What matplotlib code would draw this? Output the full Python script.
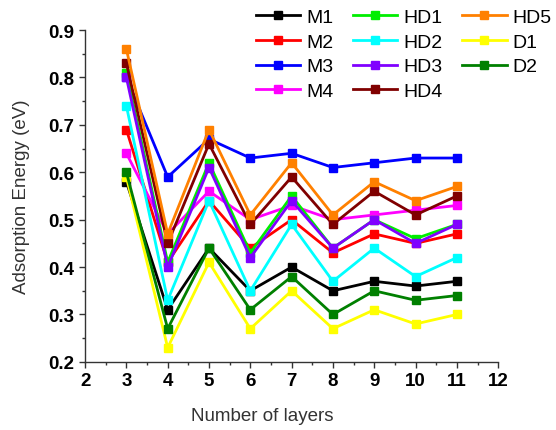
import matplotlib
matplotlib.use('Agg')
import matplotlib.pyplot as plt
from matplotlib.ticker import MultipleLocator

plt.rcParams['font.family'] = ['Liberation Sans', 'DejaVu Sans']

layers = [3, 4, 5, 6, 7, 8, 9, 10, 11]

names = ['M1', 'M2', 'M3', 'M4', 'HD1', 'HD2', 'HD3', 'HD4', 'HD5', 'D1', 'D2']
M1 = [0.58, 0.31, 0.44, 0.35, 0.40, 0.35, 0.37, 0.36, 0.37]
M2 = [0.69, 0.41, 0.54, 0.44, 0.50, 0.43, 0.47, 0.45, 0.47]
M3 = [0.80, 0.59, 0.67, 0.63, 0.64, 0.61, 0.62, 0.63, 0.63]
M4 = [0.64, 0.47, 0.56, 0.50, 0.53, 0.50, 0.51, 0.52, 0.53]
HD1 = [0.81, 0.41, 0.62, 0.43, 0.55, 0.44, 0.50, 0.46, 0.49]
HD2 = [0.74, 0.33, 0.54, 0.35, 0.49, 0.37, 0.44, 0.38, 0.42]
HD3 = [0.80, 0.40, 0.61, 0.42, 0.54, 0.44, 0.50, 0.45, 0.49]
HD4 = [0.83, 0.45, 0.66, 0.49, 0.59, 0.49, 0.56, 0.51, 0.55]
HD5 = [0.86, 0.47, 0.69, 0.51, 0.62, 0.51, 0.58, 0.54, 0.57]
D1 = [0.59, 0.23, 0.41, 0.27, 0.35, 0.27, 0.31, 0.28, 0.30]
D2 = [0.60, 0.27, 0.44, 0.31, 0.38, 0.30, 0.35, 0.33, 0.34]
series = [M1, M2, M3, M4, HD1, HD2, HD3, HD4, HD5, D1, D2]
colors = ['#000000', '#ff0000', '#0000ff', '#ff00ff', '#00ee00', '#00ffff',
          '#8000ff', '#800000', '#ff8000', '#ffff00', '#008000']

fig = plt.figure(figsize=(5.56, 4.31), dpi=100)
ax = fig.add_axes([0.153, 0.158, 0.743, 0.770])

for name, vals, c in zip(names, series, colors):
    ax.plot(layers, vals, '-s', color=c, lw=2.0, ms=6, label=name)

ax.set_xlim(2, 12)
ax.set_ylim(0.2, 0.9)
ax.xaxis.set_major_locator(MultipleLocator(1))
ax.xaxis.set_minor_locator(MultipleLocator(0.5))
ax.yaxis.set_major_locator(MultipleLocator(0.1))
ax.yaxis.set_minor_locator(MultipleLocator(0.05))
ax.spines['top'].set_visible(False)
ax.spines['right'].set_visible(False)
for s in ['left', 'bottom']:
    ax.spines[s].set_color('#333333')
    ax.spines[s].set_linewidth(1.0)
ax.tick_params(which='major', direction='out', length=4, width=1, color='#333333')
ax.tick_params(which='minor', direction='out', length=2.5, width=1, color='#333333')
ax.set_xticks(range(2, 13))
ax.set_xticklabels([str(i) for i in range(2, 13)], fontweight='bold', fontsize=13.5)
ax.set_yticks([0.2, 0.3, 0.4, 0.5, 0.6, 0.7, 0.8, 0.9])
ax.set_yticklabels(['0.2', '0.3', '0.4', '0.5', '0.6', '0.7', '0.8', '0.9'],
                   fontweight='bold', fontsize=13.5)

ax.set_xlabel('Number of layers', fontsize=13.5, color='#333333')
ax.xaxis.set_label_coords(0.43, -0.135)
ax.set_ylabel('Adsorption Energy (eV)', fontsize=13.5, color='#333333')
ax.yaxis.set_label_coords(-0.133, 0.5)

fig.legend(loc='upper right', bbox_to_anchor=(1.015, 1.007), ncol=3, frameon=False,
           fontsize=14, handlelength=2.3, handletextpad=0.3, columnspacing=1.0,
           labelspacing=0.36, borderpad=0.15)

fig.savefig('out.png', dpi=100)
